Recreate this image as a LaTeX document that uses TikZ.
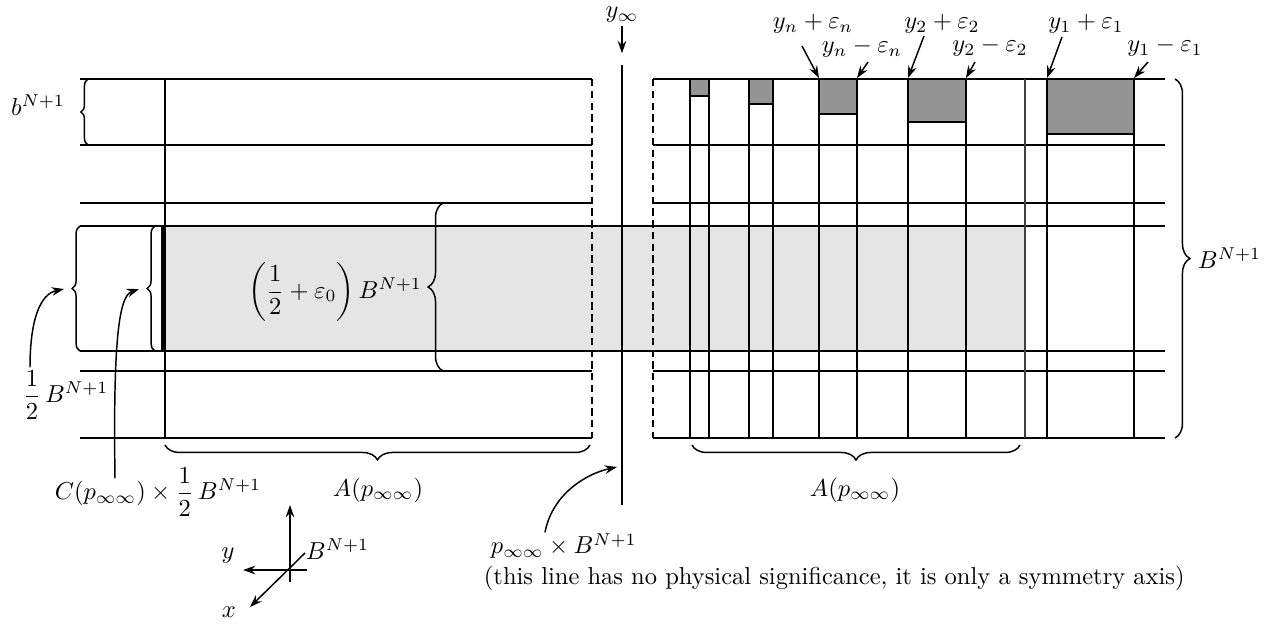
\documentclass[tikz,border=0pt]{standalone}
\usepackage{amsmath,amssymb}
\usetikzlibrary{arrows.meta,decorations.pathreplacing}

\begin{document}
\begin{tikzpicture}[
    x=0.01435cm, y=-0.01435cm,
    >={Stealth[length=5pt,width=3.5pt]},
    grid/.style={line width=0.7pt},
    cut/.style={line width=0.7pt, dash pattern=on 3pt off 1.8pt},
    brc/.style={decorate, decoration={brace, amplitude=#1}, line width=0.6pt},
    brc/.default=3.2pt,
    lab/.style={inner sep=1pt},
    band/.style={fill=black!10},
    bar/.style={fill=black!42, draw=black, line width=0.7pt},
    pin/.style={->, line width=0.6pt}
]
    \useasboundingbox (0,0) rectangle (1279,625);

    % light band and the slab lines
    \fill[band] (165,226) rectangle (1025,351);
    \foreach \y in {79,145,203,371,438} {
        \draw[grid] (80,\y) -- (592,\y);
        \draw[grid] (653,\y) -- (1165,\y);
    }
    \draw[grid] (80,226) -- (1165,226);
    \draw[grid] (80,351) -- (1165,351);
    \draw[cut] (592,79) -- (592,438);
    \draw[cut] (653,79) -- (653,438);
    \draw[grid] (165,79) -- (165,438);
    \draw[line width=1.7pt] (163,226) -- (163,351);

    % dark bars on the right
    \foreach \a/\b/\h in {690/709/96,749/773/104,819/857/114,908/966/122,1047/1134/134} {
        \filldraw[bar] (\a,79) rectangle (\b,\h);
        \draw[grid] (\a,79) -- (\a,438);
        \draw[grid] (\b,79) -- (\b,438);
    }
    \draw[grid, black!75] (1025,79) -- (1025,438);

    % symmetry axis
    \coordinate (axtop) at (622,65);
    \coordinate (axbot) at (622,505);
    \draw[grid] (axtop) -- (axbot);
    \node[lab] (yinf) at (622,15) {$y_\infty$};
    \draw[pin, shorten >=4.8pt] (yinf) -- (axtop);

    % braces
    \draw[brc=2.9pt] (88,145) -- (88,79);
    \draw[brc] (80,351) -- (80,226);
    \draw[brc] (155,351) -- (155,226);
    \draw[brc=6.1pt] (443,371) -- (443,203);
    \draw[brc=6.1pt] (1175,79) -- (1175,438);
    \draw[brc=6.1pt] (590,445) -- (165,445);
    \draw[brc=6.1pt] (1020,445) -- (692,445);

    \coordinate (tipa) at (64,289);
    \coordinate (tipb) at (139,289);
    \coordinate (tipc) at (617,467);

    % labels
    \node[lab] (lb) at (38,105) {$b^{N+1}$};
    \node[lab] (lmid) at (335,292) {$\left(\dfrac{1}{2}+\varepsilon_0\right)B^{N+1}$};
    \node[lab, anchor=west] (lhalf) at (20,395) {$\dfrac{1}{2}\,B^{N+1}$};
    \node[lab] (lc) at (158,492) {$C(p_{\infty\infty})\times\dfrac{1}{2}\,B^{N+1}$};
    \node[lab] (la1) at (378,490) {$A(p_{\infty\infty})$};
    \node[lab] (la2) at (855,490) {$A(p_{\infty\infty})$};
    \node[lab, anchor=west] (lB) at (1195,258) {$B^{N+1}$};
    \node[lab, anchor=west] (lp) at (488,546) {$p_{\infty\infty}\times B^{N+1}$};
    \node[lab, anchor=west] (note) at (481,578) {(this line has no physical significance, it is only a symmetry axis)};

    \draw[pin] ([shift={(10,0)}]lhalf.north west) .. controls (30,320) and (40,294) .. (tipa);
    \draw[pin] ([shift={(-43,14)}]lc.north) .. controls (113,340) and (119,296) .. (tipb);
    \draw[pin] ([shift={(57,2)}]lp.north west) .. controls (552,495) and (585,474) .. (tipc);

    % top marks
    \foreach \n/\px/\py/\lbl/\dx/\dy/\tx in {
        lynp/813/24/{y_n+\varepsilon_n}/-11/22/819,
        lynm/862/48/{y_n-\varepsilon_n}/6/14/857,
        lytp/942/24/{y_2+\varepsilon_2}/-18/12/908,
        lytm/990/47/{y_2-\varepsilon_2}/-15/15/966,
        lyop/1086/24/{y_1+\varepsilon_1}/-24/13/1047,
        lyom/1165/47/{y_1-\varepsilon_1}/-17/15/1134} {
        \node[lab] (\n) at (\px,\py) {$\lbl$};
        \coordinate (\n-t) at (\tx,78);
        \draw[pin] ([shift={(\dx,\dy)}]\n.center) -- (\n-t);
    }

    % axes
    \coordinate (ao) at (290,570);
    \coordinate (az) at (290,505);
    \coordinate (ay) at (243,570);
    \coordinate (ax) at (250,607);
    \draw[pin] (290,582) -- (az);
    \draw[pin] (307,570) -- (ay);
    \draw[pin] (305,553) -- (ax);
    \node[lab] (ly) at (228,556) {$y$};
    \node[lab] (lx) at (229,612) {$x$};
    \node[lab, anchor=west] (lz) at (303,549) {$B^{N+1}$};
\end{tikzpicture}
\end{document}
